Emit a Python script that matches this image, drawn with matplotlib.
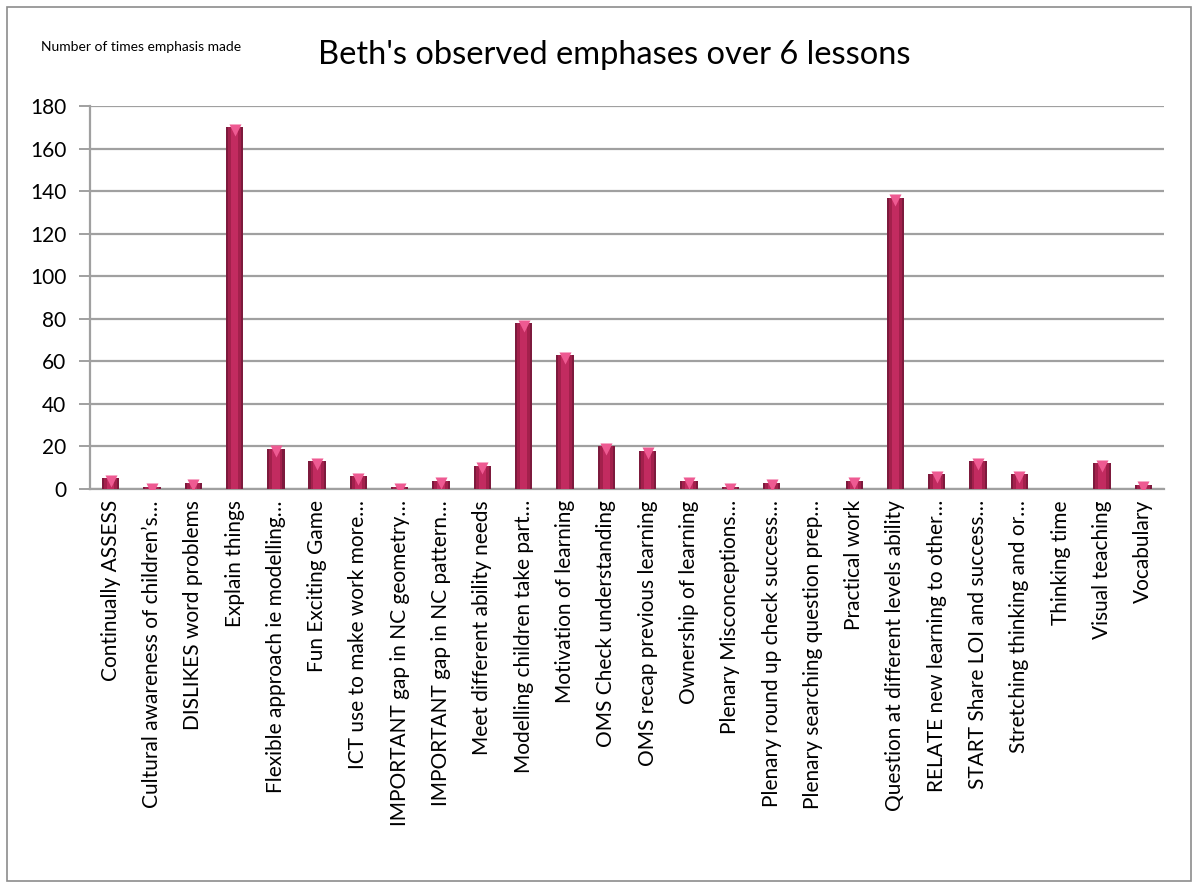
import matplotlib
matplotlib.use("Agg")
import matplotlib.pyplot as plt
from matplotlib.patches import Rectangle
import numpy as np

plt.rcParams['font.family'] = ['Lato', 'DejaVu Sans']

# categories and counts
categories = [
    "Continually ASSESS",
    "Cultural awareness of children\u2019s\u2026",
    "DISLIKES word problems",
    "Explain things",
    "Flexible approach ie modelling\u2026",
    "Fun Exciting Game",
    "ICT use to make work more\u2026",
    "IMPORTANT gap in NC geometry\u2026",
    "IMPORTANT gap in NC pattern\u2026",
    "Meet different ability needs",
    "Modelling children take part\u2026",
    "Motivation of learning",
    "OMS Check understanding",
    "OMS recap previous learning",
    "Ownership of learning",
    "Plenary Misconceptions\u2026",
    "Plenary round up check success\u2026",
    "Plenary searching question prep\u2026",
    "Practical work",
    "Question at different levels ability",
    "RELATE new learning to other\u2026",
    "START Share LOI and success\u2026",
    "Stretching thinking and or\u2026",
    "Thinking time",
    "Visual teaching",
    "Vocabulary",
]
counts = [5, 1, 3, 170, 19, 13, 6, 1, 4, 11, 78, 63, 20, 18, 4, 1, 3, 0, 4,
          137, 7, 13, 7, 0, 12, 2]
y_ticks = [0, 20, 40, 60, 80, 100, 120, 140, 160, 180]

fig = plt.figure(figsize=(11.93, 8.88), dpi=100)
ax = fig.add_axes([0.0754, 0.4493, 0.9003, 0.4313])

x = np.arange(len(categories))
vals = np.array(counts)

# fake 3D cylinder look: dark base bar + lighter middle strip + pink cap
ax.bar(x, vals, width=0.42, color="#7d1a3d", zorder=3)
ax.bar(x, vals, width=0.32, color="#a3204c", zorder=4)
ax.bar(x, vals, width=0.18, color="#c22b60", zorder=5)
mask = vals > 0
ax.scatter(x[mask], vals[mask] - 1.2, marker="v", s=75, color="#ee5a92",
           zorder=6, linewidths=0)

ax.set_xlim(-0.5, len(categories) - 0.5)
ax.set_ylim(0, 180)
ax.set_yticks(y_ticks)
ax.set_yticklabels([str(v) for v in y_ticks], fontsize=15)
ax.yaxis.grid(True, color="#a0a0a0", linewidth=1.6, zorder=0)
ax.set_axisbelow(True)

ax.set_xticks(x)
ax.set_xticklabels(categories, rotation=90, fontsize=15, va="top", ha="center")
ax.tick_params(axis="x", length=0, pad=8)
ax.tick_params(axis="y", length=8, width=1.4, color="#a0a0a0", pad=9)

for side in ["top", "right"]:
    ax.spines[side].set_visible(False)
for side in ["left", "bottom"]:
    ax.spines[side].set_color("#a0a0a0")
    ax.spines[side].set_linewidth(1.6)

fig.text(0.515, 0.938, "Beth's observed emphases over 6 lessons",
         fontsize=23.5, ha="center", va="center")
fig.text(0.034, 0.947, "Number of times emphasis made",
         fontsize=10, ha="left", va="center")

# outer chart border
fig.patches.append(Rectangle((0.006, 0.008), 0.992, 0.984,
                             transform=fig.transFigure, fill=False,
                             edgecolor="#8c8c8c", linewidth=1.2))

fig.savefig("out.png", dpi=100)
